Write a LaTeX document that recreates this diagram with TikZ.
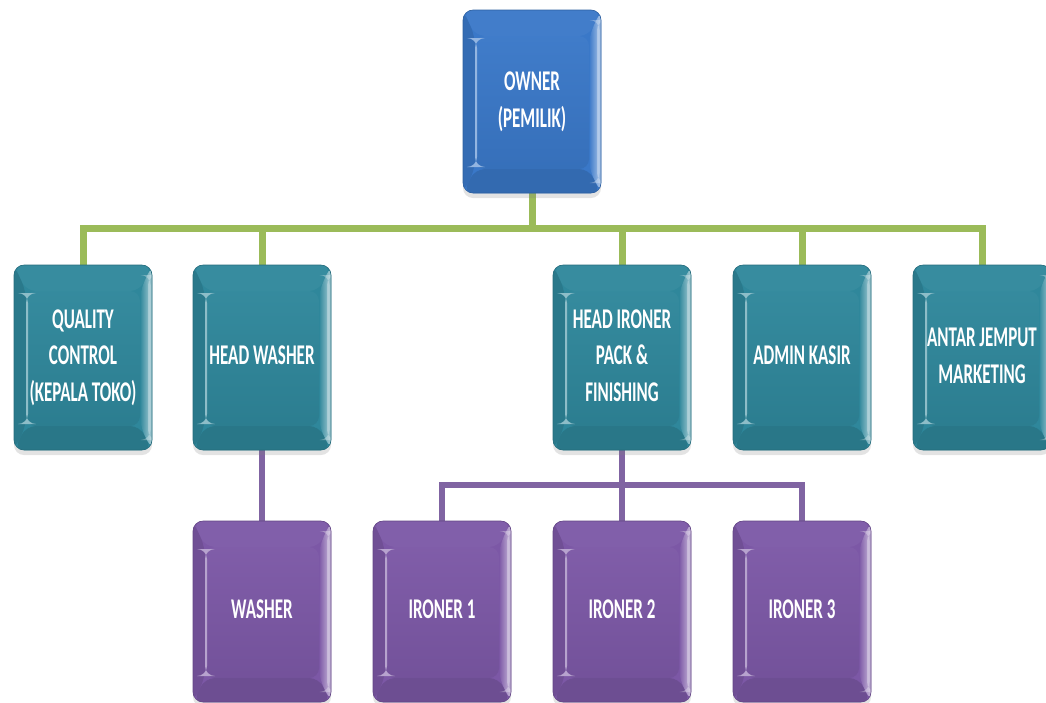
\documentclass[tikz,border=0pt]{standalone}
\usepackage{fontspec}
\setmainfont{Carlito}
\usetikzlibrary{shadows,backgrounds}
\definecolor{ownerc}{HTML}{3A78C8}
\definecolor{tealc}{HTML}{2F879B}
\definecolor{purpc}{HTML}{7C58A6}
\definecolor{greenl}{HTML}{9BBB59}
\definecolor{purpl}{HTML}{8064A2}
\newcommand{\bxt}[1]{\scalebox{1.0}[1.68]{\fontsize{17}{21.8}\selectfont\bfseries\begin{tabular}{@{}c@{}}#1\end{tabular}}}
\tikzset{
  bev/.style={rectangle, rounded corners=10pt, minimum width=138pt, minimum height=#1,
    inner sep=0pt, text=white, line width=0.6pt,
    drop shadow={opacity=0.22, shadow xshift=0pt, shadow yshift=-5pt}},
  bevcol/.style={fill=#1, draw=#1!80!black,
    path picture={
      \path (path picture bounding box.north west) coordinate (bnw)
            (path picture bounding box.south east) coordinate (bse);
      \path (bnw) ++(12pt,-26pt) coordinate (inw);
      \path (bse) ++(-12pt,24pt) coordinate (ise);
      \fill[#1!96!white] (bnw) -- (bnw -| bse) -- (inw -| ise) -- (inw) -- cycle;
      \fill[#1!88!black] (bse) -- (bse -| bnw) -- (ise -| inw) -- (ise) -- cycle;
      \fill[#1!90!black] (bnw) -- (inw) -- (ise -| inw) -- (bse -| bnw) -- cycle;
      \shade[left color=#1, right color=#1!40!white] (bnw -| bse) -- (inw -| ise) -- (ise) -- (bse) -- cycle;
      \shade[top color=#1!97!white, bottom color=#1!93!black] (inw) rectangle (ise);
      \fill[#1!55!white] ([xshift=0pt,yshift=-2pt]inw) rectangle ([xshift=2pt,yshift=2pt]ise -| inw);
      \fill[white, opacity=0.3] ([xshift=-4pt,yshift=-10pt]bnw -| bse) rectangle ([xshift=-1.5pt,yshift=10pt]bse);
    }},
  gline/.style={draw=greenl, line width=7pt},
  pline/.style={draw=purpl, line width=6pt}
}
\begin{document}
\begin{tikzpicture}[x=1pt,y=-1pt]
\useasboundingbox (0,0) rectangle (1046,702);
% level 0
\node[bev=183pt, bevcol=ownerc] (owner) at (532,101.5) {\bxt{OWNER\\(PEMILIK)}};
% level 1
\node[bev=185pt, bevcol=tealc] (qc) at (83,357.5) {\bxt{QUALITY\\CONTROL\\(KEPALA TOKO)}};
\node[bev=185pt, bevcol=tealc] (hw) at (262,357.5) {\bxt{HEAD WASHER}};
\node[bev=185pt, bevcol=tealc] (hip) at (622,357.5) {\bxt{HEAD IRONER\\PACK \&\\FINISHING}};
\node[bev=185pt, bevcol=tealc] (ak) at (802,357.5) {\bxt{ADMIN KASIR}};
\node[bev=185pt, bevcol=tealc] (ajm) at (982,357.5) {\bxt{ANTAR JEMPUT\\MARKETING}};
% level 2
\node[bev=181pt, bevcol=purpc] (wa) at (262,611.5) {\bxt{WASHER}};
\node[bev=181pt, bevcol=purpc] (ir1) at (442,611.5) {\bxt{IRONER 1}};
\node[bev=181pt, bevcol=purpc] (ir2) at (622,611.5) {\bxt{IRONER 2}};
\node[bev=181pt, bevcol=purpc] (ir3) at (802,611.5) {\bxt{IRONER 3}};
\coordinate (gb) at (532,228);
\coordinate (pb) at (622,485);
\begin{scope}[on background layer]
\draw[gline] (owner.south) -- (gb);
\draw[gline] (qc.north) |- (gb);
\draw[gline] (hw.north) |- (gb);
\draw[gline] (hip.north) |- (gb);
\draw[gline] (ak.north) |- (gb);
\draw[gline] (ajm.north) |- (gb);
\draw[pline] (hw.south) -- (wa.north);
\draw[pline] (hip.south) -- (ir2.north);
\draw[pline] (ir1.north) |- (pb);
\draw[pline] (ir3.north) |- (pb);
\end{scope}
\end{tikzpicture}
\end{document}
